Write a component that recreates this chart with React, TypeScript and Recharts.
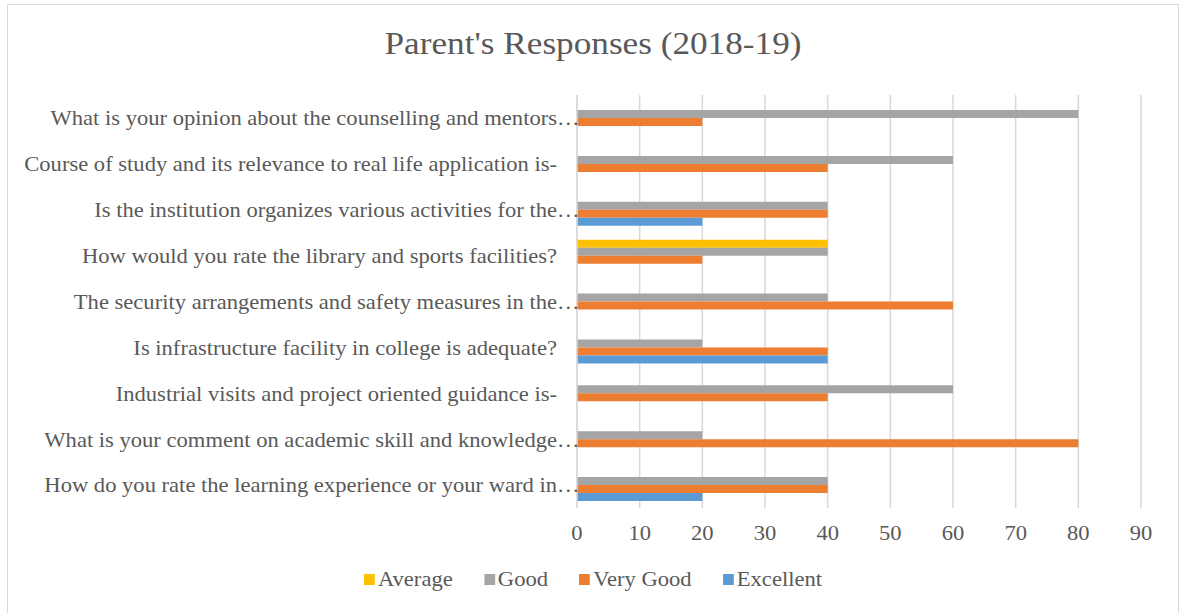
import { BarChart, Bar, XAxis, YAxis, CartesianGrid } from 'recharts'

const FONT = "'Liberation Serif', 'Times New Roman', serif"
const TEXT = '#595959'
const GRID = '#d9d9d9'
// the source picture is a little wider than tall, so text is stretched sideways
const STRETCH = 1.075

const questions = [
  'What is your opinion about the counselling and mentors…',
  'Course of study and its relevance to real life application is-',
  'Is the institution organizes various activities for the…',
  'How would you rate the library and sports facilities?',
  'The security arrangements and safety measures in the…',
  'Is infrastructure facility in college is adequate?',
  'Industrial visits and project oriented guidance is-',
  'What is your comment on academic skill and knowledge…',
  'How do you rate the learning experience or your ward in…',
]

const average = [null, null, null, 40, null, null, null, null, null]
const good = [80, 60, 40, 40, 40, 20, 60, 20, 40]
const veryGood = [20, 40, 40, 20, 60, 40, 40, 80, 40]
const excellent = [null, null, 20, null, null, 40, null, null, 20]

const xTicks = [0, 10, 20, 30, 40, 50, 60, 70, 80, 90]

const series = [
  { key: 'average', label: 'Average', color: '#FFC000' },
  { key: 'good', label: 'Good', color: '#A5A5A5' },
  { key: 'veryGood', label: 'Very Good', color: '#ED7D31' },
  { key: 'excellent', label: 'Excellent', color: '#5B9BD5' },
]

const data = questions.map((name, i) => ({
  name,
  average: average[i],
  good: good[i],
  veryGood: veryGood[i],
  excellent: excellent[i],
}))

function QuestionTick({ x, y, payload }: { x?: number; y?: number; payload?: { value: string } }) {
  const label = payload?.value ?? ''
  const cut = label.endsWith('…')
  const main = cut ? label.slice(0, -1) : label
  return (
    <g transform={`translate(${x},${y}) scale(${STRETCH},1)`}>
      <text x={0} y={0} dy="0.35em" textAnchor="end" fill={TEXT} fontSize={21} fontFamily={FONT}>
        {main}
      </text>
      {cut && (
        <text x={0} y={0} dy="0.35em" textAnchor="start" fill={TEXT} fontSize={21} fontFamily={FONT}>
          …
        </text>
      )}
    </g>
  )
}

function ValueTick({ x, y, payload }: { x?: number; y?: number; payload?: { value: number } }) {
  return (
    <g transform={`translate(${x},${y}) scale(${STRETCH},1)`}>
      <text x={0} y={0} dy="0.71em" textAnchor="middle" fill={TEXT} fontSize={21} fontFamily={FONT}>
        {payload?.value}
      </text>
    </g>
  )
}

export default function App() {
  return (
    <div style={{ position: 'absolute', left: 0, top: 0, width: 1179, height: 613, background: '#fff', overflow: 'hidden', fontFamily: FONT }}>
      <div style={{ position: 'absolute', left: 7, top: 4, width: 1170, height: 640, border: `1px solid ${GRID}` }} />
      <div
        style={{
          position: 'absolute',
          left: 8,
          width: 1170,
          top: 25,
          textAlign: 'center',
          fontSize: 32,
          color: TEXT,
          transform: 'scaleX(1.1)',
          transformOrigin: '585px 0',
        }}
      >
        Parent's Responses (2018-19)
      </div>

      <div style={{ position: 'absolute', left: 0, top: 0 }}>
        <BarChart
          width={1179}
          height={613}
          data={data}
          layout="vertical"
          barSize={8}
          barGap={0}
          margin={{ top: 95, right: 38, bottom: 65, left: 0 }}
        >
          <CartesianGrid horizontal={false} stroke={GRID} strokeWidth={1.5} />
          <XAxis
            type="number"
            domain={[0, 90]}
            ticks={xTicks}
            axisLine={false}
            tickLine={false}
            tickMargin={11}
            height={40}
            tick={<ValueTick />}
          />
          <YAxis
            type="category"
            dataKey="name"
            width={577}
            axisLine={{ stroke: GRID, strokeWidth: 1.5 }}
            tickLine={false}
            tickMargin={14}
            interval={0}
            tick={<QuestionTick />}
          />
          {series.map((s) => (
            <Bar key={s.key} dataKey={s.key} name={s.label} fill={s.color} isAnimationActive={false} />
          ))}
        </BarChart>
      </div>

      <div
        style={{
          position: 'absolute',
          left: 8,
          width: 1170,
          top: 567,
          display: 'flex',
          justifyContent: 'center',
          gap: 29,
          fontSize: 21,
          color: TEXT,
          transform: `scaleX(${STRETCH})`,
          transformOrigin: '585px 0',
        }}
      >
        {series.map((s) => (
          <div key={s.key} style={{ display: 'flex', alignItems: 'center' }}>
            <span style={{ display: 'inline-block', width: 10, height: 11, background: s.color, marginRight: 3 }} />
            <span>{s.label}</span>
          </div>
        ))}
      </div>
    </div>
  )
}
